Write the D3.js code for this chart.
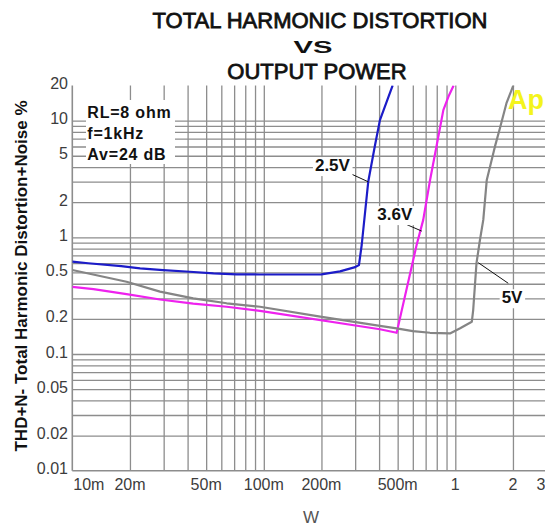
<!DOCTYPE html>
<html>
<head>
<meta charset="utf-8">
<script src="https://cdn.jsdelivr.net/npm/d3@7"></script>
<style>
  body { margin: 0; background: #fff; }
  text { font-family: "Liberation Sans", Arial, sans-serif; }
</style>
</head>
<body>
<div id="chart"></div>
<script>
// --- data (power in W, THD+N in %) ---
const power25 = [0.01, 0.0121, 0.018, 0.0226, 0.0298, 0.041, 0.0546, 0.072, 0.095, 0.15, 0.2, 0.25, 0.3, 0.314, 0.3245, 0.351, 0.381, 0.404, 0.471];
const thd25   = [0.618, 0.599, 0.567, 0.542, 0.524, 0.507, 0.491, 0.482, 0.48, 0.48, 0.482, 0.51, 0.555, 0.579, 0.859, 2.99, 6.18, 10.1, 20];

const power36 = [0.01, 0.0129, 0.0192, 0.0287, 0.0428, 0.064, 0.0955, 0.404, 0.494, 0.628, 0.68, 0.738, 0.80, 0.866, 0.92, 0.98];
const thd36   = [0.376, 0.36, 0.326, 0.293, 0.27, 0.254, 0.234, 0.163, 0.152, 0.859, 1.41, 3.08, 6.17, 12.3, 16, 20];

const power5 = [0.01, 0.0192, 0.0287, 0.0428, 0.064, 0.0955, 0.197, 0.404, 0.494, 0.60, 0.738, 0.938, 1.06, 1.22, 1.24, 1.29, 1.345, 1.40, 1.46, 1.61, 1.71, 1.85, 2.01];
const thd5   = [0.525, 0.416, 0.342, 0.30, 0.272, 0.254, 0.209, 0.174, 0.166, 0.157, 0.152, 0.15, 0.166, 0.189, 0.238, 0.599, 0.948, 1.41, 3.1, 5.98, 8.6, 14.1, 20];

const xTickValues = [0.01, 0.02, 0.05, 0.1, 0.2, 0.5, 1, 2, 3];
const xTickLabels = ["10m", "20m", "50m", "100m", "200m", "500m", "1", "2", "3"];
const yTickValues = [20, 10, 5, 2, 1, 0.5, 0.2, 0.1, 0.05, 0.02, 0.01];
const yTickLabels = ["20", "10", "5", "2", "1", "0.5", "0.2", "0.1", "0.05", "0.02", "0.01"];

const seriesNames = ["2.5V", "3.6V", "5V"];
const seriesColors = ["#1c1cc8", "#ee22ee", "#858585"];
const infoLines = ["RL=8 ohm", "f=1kHz", "Av=24 dB"];
const titleLines = ["TOTAL HARMONIC DISTORTION", "VS", "OUTPUT POWER"];

// --- layout ---
const width = 545, height = 527;
const plotLeft = 72.3, plotBottom = 470.7;
const decadeX = 191.5, decadeY = 116.7;
const gridColor = "#8d8d8d";

const x = d3.scaleLog()
    .domain([0.01, 4])
    .range([plotLeft, plotLeft + decadeX * Math.log10(400)]);
const y = d3.scaleLog()
    .domain([0.01, 20])
    .range([plotBottom, plotBottom - decadeY * Math.log10(2000)]);
const plotTop = y(20);
const plotRight = x(4);

const svg = d3.select("#chart")
    .append("svg")
    .attr("width", width)
    .attr("height", height);

svg.append("defs").append("clipPath")
    .attr("id", "plot-clip")
    .append("rect")
    .attr("x", plotLeft)
    .attr("y", plotTop)
    .attr("width", plotRight - plotLeft)
    .attr("height", plotBottom - plotTop);

// grid lines (1..9 per decade)
const gx = svg.append("g")
    .attr("transform", `translate(0,${plotBottom})`)
    .call(d3.axisBottom(x)
        .tickValues(x.ticks().filter(v => v > 0.0101 && v < 3.5))
        .tickSize(-(plotBottom - plotTop))
        .tickFormat(""));
gx.select(".domain").remove();
gx.selectAll("line").attr("stroke", gridColor).attr("stroke-width", 1.3);

const gy = svg.append("g")
    .attr("transform", `translate(${plotLeft},0)`)
    .call(d3.axisLeft(y)
        .tickValues(y.ticks().filter(v => v > 0.0101 && v < 15))
        .tickSize(-(plotRight - plotLeft))
        .tickFormat(""));
gy.select(".domain").remove();
gy.selectAll("line").attr("stroke", gridColor).attr("stroke-width", 1.3);

// frame: left and bottom
svg.append("line")
    .attr("x1", x(0.01)).attr("x2", x(0.01))
    .attr("y1", plotTop).attr("y2", plotBottom)
    .attr("stroke", gridColor).attr("stroke-width", 1.6);
svg.append("line")
    .attr("x1", plotLeft).attr("x2", width)
    .attr("y1", y(0.01)).attr("y2", y(0.01))
    .attr("stroke", gridColor).attr("stroke-width", 1.6);

// tick labels
svg.append("g")
    .selectAll("text")
    .data(xTickValues)
    .enter()
    .append("text")
    .attr("x", (d, i) => i === 0 ? x(d) + 1 : (i === xTickValues.length - 1 ? Math.min(x(d), width - 4) : x(d)))
    .attr("y", 490)
    .attr("text-anchor", (d, i) => i === 0 ? "start" : "middle")
    .attr("font-size", 16)
    .attr("fill", "#3c3c3c")
    .text((d, i) => xTickLabels[i]);

svg.append("g")
    .selectAll("text")
    .data(yTickValues)
    .enter()
    .append("text")
    .attr("x", 68)
    .attr("y", d => y(d) + 3.5)
    .attr("text-anchor", "end")
    .attr("font-size", 16)
    .attr("fill", "#3c3c3c")
    .text((d, i) => yTickLabels[i]);

// axis titles
svg.append("text")
    .attr("transform", "translate(27,276) rotate(-90)")
    .attr("text-anchor", "middle")
    .attr("font-size", 17)
    .attr("font-weight", "bold")
    .attr("fill", "#111")
    .text("THD+N- Total Harmonic Distortion+Noise %");

svg.append("text")
    .attr("x", 311)
    .attr("y", 523)
    .attr("text-anchor", "middle")
    .attr("font-size", 17)
    .attr("fill", "#555")
    .text("W");

// title
const title = svg.append("g").attr("fill", "#111");
title.append("text")
    .attr("x", 320).attr("y", 28.3)
    .attr("text-anchor", "middle")
    .attr("font-size", 22)
    .attr("stroke", "#111").attr("stroke-width", 0.8)
    .text(titleLines[0]);
title.append("text")
    .attr("x", 313).attr("y", 52.7)
    .attr("text-anchor", "middle")
    .attr("font-size", 17)
    .attr("font-weight", "bold")
    .attr("textLength", 39)
    .attr("lengthAdjust", "spacingAndGlyphs")
    .text(titleLines[1]);
title.append("text")
    .attr("x", 317).attr("y", 79)
    .attr("text-anchor", "middle")
    .attr("font-size", 22)
    .attr("stroke", "#111").attr("stroke-width", 0.8)
    .text(titleLines[2]);

// curves
const line = d3.line()
    .x(d => x(d[0]))
    .y(d => y(d[1]));

const series = [
    d3.zip(power25, thd25),
    d3.zip(power36, thd36),
    d3.zip(power5, thd5)
];

svg.append("g")
    .attr("clip-path", "url(#plot-clip)")
    .selectAll("path")
    .data(series)
    .enter()
    .append("path")
    .attr("d", line)
    .attr("fill", "none")
    .attr("stroke", (d, i) => seriesColors[i])
    .attr("stroke-width", 2.2)
    .attr("stroke-linejoin", "round");

// "Ap" mark
svg.append("text")
    .attr("x", 508).attr("y", 109)
    .attr("font-size", 27)
    .attr("font-weight", "bold")
    .attr("fill", "#f4f41c")
    .text("Ap");

// info box
const info = svg.append("g");
const infoBg = info.append("rect").attr("fill", "#fff");
info.selectAll("text")
    .data(infoLines)
    .enter()
    .append("text")
    .attr("x", 87.3)
    .attr("y", (d, i) => 117.7 + i * 21.2)
    .attr("font-size", 16)
    .attr("font-weight", "bold")
    .attr("letter-spacing", 0.8)
    .attr("fill", "#111")
    .text(d => d);
infoBg.attr("x", 86).attr("y", 100).attr("width", 89).attr("height", 64);

// series labels with leader lines (anchor on curve, offsets in px)
const callouts = [
    {name: seriesNames[0], p: 0.351, t: 2.99, lx: -18.3, ly: -8.4, tx: -53.3, ty: -10.7},
    {name: seriesNames[1], p: 0.668, t: 1.13, lx: -20, ly: -8.7, tx: -44.4, ty: -11},
    {name: seriesNames[2], p: 1.318, t: 0.606, lx: 30, ly: 20.6, tx: 23.4, ty: 40.6}
];

callouts.forEach(c => {
    const cx = x(c.p), cy = y(c.t);
    svg.append("line")
        .attr("x1", cx + c.lx).attr("y1", cy + c.ly)
        .attr("x2", cx).attr("y2", cy)
        .attr("stroke", "#111")
        .attr("stroke-width", 1);
    const g = svg.append("g");
    const bg = g.append("rect").attr("fill", "#fff");
    const t = g.append("text")
        .attr("x", cx + c.tx)
        .attr("y", cy + c.ty)
        .attr("font-size", 17)
        .attr("font-weight", "bold")
        .attr("fill", "#111")
        .text(c.name);
    const b = t.node().getBBox();
    bg.attr("x", b.x - 2).attr("y", b.y + 1)
        .attr("width", b.width + 4).attr("height", b.height);
});
</script>
</body>
</html>
